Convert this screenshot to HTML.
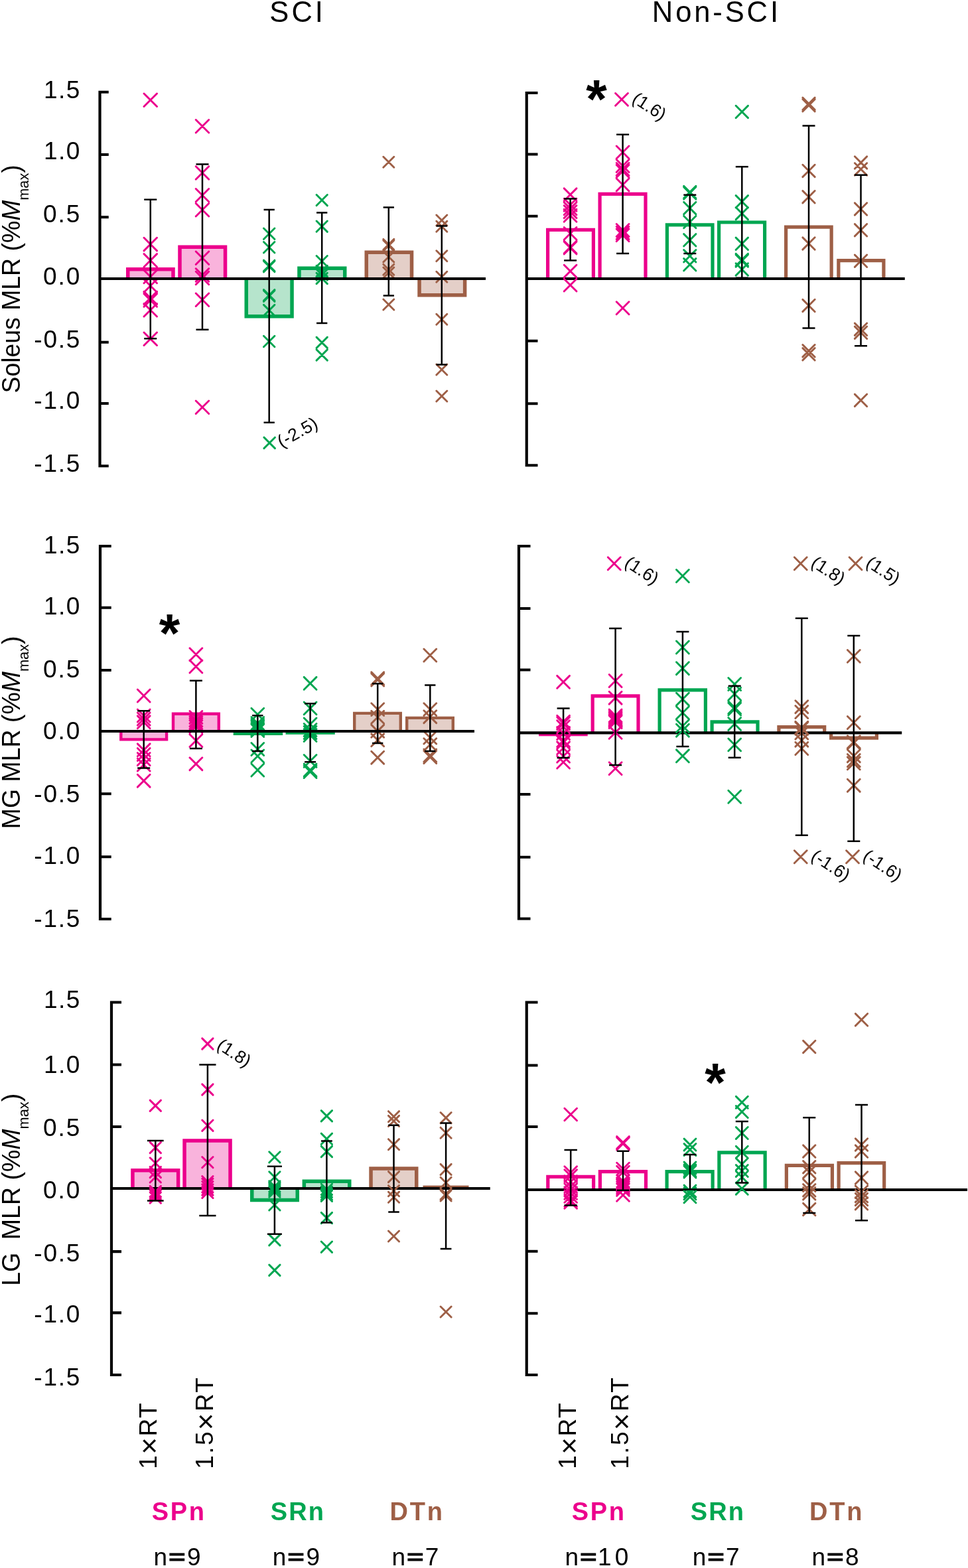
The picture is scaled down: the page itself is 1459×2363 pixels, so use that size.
<!DOCTYPE html>
<html lang="en">
<head>
<meta charset="utf-8">
<title>MLR amplitude in SCI and Non-SCI groups</title>
<style>
html,body{margin:0;padding:0;background:#fff}
body{width:1459px;height:2363px;overflow:hidden}
svg{display:block}
text{font-family:"Liberation Sans",Arial,Helvetica,sans-serif}
</style>
</head>
<body>
<svg width="1459" height="2363" viewBox="0 0 1459 2363">
<rect width="1459" height="2363" fill="#fff"/>
<g class="panel">
<path d="M192.75 420V405.75H261V420" fill="#f9b3dc" stroke="#ec008c" stroke-width="5.5"/>
<path d="M271 420V372.15H339.55V420" fill="#f9b3dc" stroke="#ec008c" stroke-width="5.5"/>
<path d="M371.25 420V476.75H440.05V420" fill="#b6e4cc" stroke="#00a651" stroke-width="5.5"/>
<path d="M450.95 420V404.15H519.75V420" fill="#b6e4cc" stroke="#00a651" stroke-width="5.5"/>
<path d="M552.25 420V380.15H620.55V420" fill="#e4cfc8" stroke="#9e5f46" stroke-width="5.5"/>
<path d="M632.05 420V444.65H700.65V420" fill="#e4cfc8" stroke="#9e5f46" stroke-width="5.5"/>
<path d="M216.99 140.99l19.52 19.52M216.99 160.51l19.52 -19.52M216.99 358.34l19.52 19.52M216.99 377.86l19.52 -19.52M216.99 382.64l19.52 19.52M216.99 402.16l19.52 -19.52M216.99 407.24l19.52 19.52M216.99 426.76l19.52 -19.52M216.99 420.94l19.52 19.52M216.99 440.46l19.52 -19.52M216.99 439.24l19.52 19.52M216.99 458.76l19.52 -19.52M216.99 442.74l19.52 19.52M216.99 462.26l19.52 -19.52M216.99 457.44l19.52 19.52M216.99 476.96l19.52 -19.52M216.99 501.04l19.52 19.52M216.99 520.56l19.52 -19.52" fill="none" stroke="#ec008c" stroke-width="2.9" stroke-linecap="round"/>
<path d="M295.24 180.49l19.52 19.52M295.24 200.01l19.52 -19.52M295.24 250.74l19.52 19.52M295.24 270.26l19.52 -19.52M295.24 284.49l19.52 19.52M295.24 304.01l19.52 -19.52M295.24 306.49l19.52 19.52M295.24 326.01l19.52 -19.52M295.24 378.94l19.52 19.52M295.24 398.46l19.52 -19.52M295.24 404.74l19.52 19.52M295.24 424.26l19.52 -19.52M295.24 409.24l19.52 19.52M295.24 428.76l19.52 -19.52M295.24 442.04l19.52 19.52M295.24 461.56l19.52 -19.52M295.24 603.99l19.52 19.52M295.24 623.51l19.52 -19.52" fill="none" stroke="#ec008c" stroke-width="2.9" stroke-linecap="round"/>
<path d="M397.45 344.05l16.49 16.49M397.45 360.55l16.49 -16.49M397.45 364.45l16.49 16.49M397.45 380.95l16.49 -16.49M397.45 392.15l16.49 16.49M397.45 408.65l16.49 -16.49M397.45 393.35l16.49 16.49M397.45 409.85l16.49 -16.49M397.45 436.55l16.49 16.49M397.45 453.05l16.49 -16.49M397.45 437.95l16.49 16.49M397.45 454.45l16.49 -16.49M397.45 459.35l16.49 16.49M397.45 475.85l16.49 -16.49M397.45 506.25l16.49 16.49M397.45 522.75l16.49 -16.49M397.95 659.15l16.49 16.49M397.95 675.65l16.49 -16.49" fill="none" stroke="#00a651" stroke-width="2.9" stroke-linecap="round"/>
<path d="M477.06 293.56l16.29 16.29M477.06 309.84l16.29 -16.29M477.06 333.06l16.29 16.29M477.06 349.34l16.29 -16.29M477.06 385.46l16.29 16.29M477.06 401.75l16.29 -16.29M477.06 400.25l16.29 16.29M477.06 416.54l16.29 -16.29M477.06 401.36l16.29 16.29M477.06 417.64l16.29 -16.29M477.06 405.86l16.29 16.29M477.06 422.14l16.29 -16.29M477.06 411.36l16.29 16.29M477.06 427.64l16.29 -16.29M477.06 508.11l16.29 16.29M477.06 524.39l16.29 -16.29M477.06 526.86l16.29 16.29M477.06 543.14l16.29 -16.29" fill="none" stroke="#00a651" stroke-width="2.9" stroke-linecap="round"/>
<path d="M577.81 236.26l15.99 15.99M577.81 252.24l15.99 -15.99M577.81 360.41l15.99 15.99M577.81 376.39l15.99 -15.99M577.81 362.21l15.99 15.99M577.81 378.19l15.99 -15.99M577.81 379.01l15.99 15.99M577.81 394.99l15.99 -15.99M577.81 398.21l15.99 15.99M577.81 414.19l15.99 -15.99M577.81 403.01l15.99 15.99M577.81 418.99l15.99 -15.99M577.81 451.01l15.99 15.99M577.81 466.99l15.99 -15.99" fill="none" stroke="#9e5f46" stroke-width="2.9" stroke-linecap="round"/>
<path d="M657.81 324.01l15.99 15.99M657.81 339.99l15.99 -15.99M657.81 333.31l15.99 15.99M657.81 349.29l15.99 -15.99M657.81 377.71l15.99 15.99M657.81 393.69l15.99 -15.99M657.81 409.21l15.99 15.99M657.81 425.19l15.99 -15.99M657.81 473.26l15.99 15.99M657.81 489.24l15.99 -15.99M657.81 549.01l15.99 15.99M657.81 564.99l15.99 -15.99M657.81 589.01l15.99 15.99M657.81 604.99l15.99 -15.99" fill="none" stroke="#9e5f46" stroke-width="2.9" stroke-linecap="round"/>
<path d="M150.5 136.65V704.35M150.5 138.75H163.75M150.5 233H163.75M150.5 327.25H163.75M150.5 515.75H163.75M150.5 608H163.75M150.5 702.25H163.75M148.4 420H732" fill="none" stroke="#000" stroke-width="4.2"/>
<path d="M226.75 300.75V510.2M217.25 300.75h19M217.25 510.2h19M305 247.5V496.75M295.5 247.5h19M295.5 496.75h19M405.7 316V636.75M397.55 316h16.3M397.55 636.75h16.3M485.2 320.5V487M477.05 320.5h16.3M477.05 487h16.3M585.8 312.6V445.5M577.65 312.6h16.3M577.65 445.5h16.3M665.8 340.5V549.5M657.65 340.5h16.3M657.65 549.5h16.3" fill="none" stroke="#000" stroke-width="2.5"/>
</g>
<g class="panel">
<path d="M825.6 420V346.4H894.4V420" fill="none" stroke="#ec008c" stroke-width="5.2"/>
<path d="M904.1 420V292.4H973V420" fill="none" stroke="#ec008c" stroke-width="5.2"/>
<path d="M1005.4 420V338.8H1074V420" fill="none" stroke="#00a651" stroke-width="5.2"/>
<path d="M1083.6 420V335H1152.6V420" fill="none" stroke="#00a651" stroke-width="5.2"/>
<path d="M1184.6 420V342.1H1253.15V420" fill="none" stroke="#9e5f46" stroke-width="5.2"/>
<path d="M1263.85 420V392.6H1331.9V420" fill="none" stroke="#9e5f46" stroke-width="5.2"/>
<path d="M793.75 137.9V703.35M793.75 140H810.5M793.75 232.5H810.5M793.75 325.75H810.5M793.75 513.75H810.5M793.75 608.25H810.5M793.75 701.25H810.5M791.65 420H1363.75" fill="none" stroke="#000" stroke-width="4.2"/>
<path d="M850.19 283.89l18.82 18.82M850.19 302.71l18.82 -18.82M850.19 299.29l18.82 18.82M850.19 318.11l18.82 -18.82M850.19 304.89l18.82 18.82M850.19 323.71l18.82 -18.82M850.19 309.79l18.82 18.82M850.19 328.61l18.82 -18.82M850.19 315.39l18.82 18.82M850.19 334.21l18.82 -18.82M850.19 342.49l18.82 18.82M850.19 361.31l18.82 -18.82M850.19 362.99l18.82 18.82M850.19 381.81l18.82 -18.82M850.19 364.19l18.82 18.82M850.19 383.01l18.82 -18.82M850.19 399.29l18.82 18.82M850.19 418.11l18.82 -18.82M850.19 420.19l18.82 18.82M850.19 439.01l18.82 -18.82" fill="none" stroke="#ec008c" stroke-width="2.9" stroke-linecap="round"/>
<path d="M927.59 140.49l18.82 18.82M927.59 159.31l18.82 -18.82M929.19 220.09l18.82 18.82M929.19 238.91l18.82 -18.82M929.19 240.59l18.82 18.82M929.19 259.41l18.82 -18.82M929.19 245.59l18.82 18.82M929.19 264.41l18.82 -18.82M929.19 248.59l18.82 18.82M929.19 267.41l18.82 -18.82M929.19 269.09l18.82 18.82M929.19 287.91l18.82 -18.82M929.19 337.59l18.82 18.82M929.19 356.41l18.82 -18.82M929.19 344.99l18.82 18.82M929.19 363.81l18.82 -18.82M929.19 341.59l18.82 18.82M929.19 360.41l18.82 -18.82M929.19 454.84l18.82 18.82M929.19 473.66l18.82 -18.82" fill="none" stroke="#ec008c" stroke-width="2.9" stroke-linecap="round"/>
<path d="M1030.64 280.35l18.31 18.31M1030.64 298.65l18.31 -18.31M1030.64 281.85l18.31 18.31M1030.64 300.15l18.31 -18.31M1030.64 304.54l18.31 18.31M1030.64 322.86l18.31 -18.31M1030.64 325.45l18.31 18.31M1030.64 343.75l18.31 -18.31M1030.64 352.64l18.31 18.31M1030.64 370.96l18.31 -18.31M1030.64 376.64l18.31 18.31M1030.64 394.96l18.31 -18.31M1030.64 389.64l18.31 18.31M1030.64 407.96l18.31 -18.31" fill="none" stroke="#00a651" stroke-width="2.9" stroke-linecap="round"/>
<path d="M1109.14 159.34l18.31 18.31M1109.14 177.66l18.31 -18.31M1109.14 294.64l18.31 18.31M1109.14 312.96l18.31 -18.31M1109.14 312.54l18.31 18.31M1109.14 330.86l18.31 -18.31M1109.14 358.14l18.31 18.31M1109.14 376.46l18.31 -18.31M1109.14 382.25l18.31 18.31M1109.14 400.55l18.31 -18.31M1109.14 383.85l18.31 18.31M1109.14 402.15l18.31 -18.31M1109.14 396.85l18.31 18.31M1109.14 415.15l18.31 -18.31" fill="none" stroke="#00a651" stroke-width="2.9" stroke-linecap="round"/>
<path d="M1209.85 147.09l18.31 18.31M1209.85 165.41l18.31 -18.31M1209.85 149.59l18.31 18.31M1209.85 167.91l18.31 -18.31M1209.85 248.34l18.31 18.31M1209.85 266.65l18.31 -18.31M1209.85 287.6l18.31 18.31M1209.85 305.9l18.31 -18.31M1209.85 357.85l18.31 18.31M1209.85 376.15l18.31 -18.31M1209.85 451.35l18.31 18.31M1209.85 469.65l18.31 -18.31M1209.85 519.6l18.31 18.31M1209.85 537.9l18.31 -18.31M1209.85 524.6l18.31 18.31M1209.85 542.9l18.31 -18.31" fill="none" stroke="#9e5f46" stroke-width="2.9" stroke-linecap="round"/>
<path d="M1288.35 235.84l18.31 18.31M1288.35 254.16l18.31 -18.31M1288.35 245.84l18.31 18.31M1288.35 264.15l18.31 -18.31M1288.35 305.85l18.31 18.31M1288.35 324.15l18.31 -18.31M1288.35 337.6l18.31 18.31M1288.35 355.9l18.31 -18.31M1288.35 384.1l18.31 18.31M1288.35 402.4l18.31 -18.31M1288.35 487.1l18.31 18.31M1288.35 505.4l18.31 -18.31M1288.35 492.1l18.31 18.31M1288.35 510.4l18.31 -18.31M1288.35 594.1l18.31 18.31M1288.35 612.4l18.31 -18.31" fill="none" stroke="#9e5f46" stroke-width="2.9" stroke-linecap="round"/>
<path d="M859.6 299.4V392.4M850.1 299.4h19M850.1 392.4h19M938.6 202.75V381.9M929.1 202.75h19M929.1 381.9h19M1039.8 293.7V381.9M1030.3 293.7h19M1030.3 381.9h19M1118.3 251.25V418.75M1108.8 251.25h19M1108.8 418.75h19M1219 189.5V494.5M1209.5 189.5h19M1209.5 494.5h19M1297.5 263.75V521.25M1288 263.75h19M1288 521.25h19" fill="none" stroke="#000" stroke-width="2.5"/>
</g>
<g class="panel">
<path d="M182.3 1102V1114.4H251.1V1102" fill="#f9b3dc" stroke="#ec008c" stroke-width="4.4"/>
<path d="M261 1102V1075.7H329.8V1102" fill="#f9b3dc" stroke="#ec008c" stroke-width="4.4"/>
<rect x="351.7" y="1102" width="74.5" height="6" fill="#00a651"/>
<rect x="430.5" y="1102" width="74.3" height="4.8" fill="#00a651"/>
<path d="M534.2 1102V1074.9H603.8V1102" fill="#e4cfc8" stroke="#9e5f46" stroke-width="4.4"/>
<path d="M613.2 1102V1081.9H682.8V1102" fill="#e4cfc8" stroke="#9e5f46" stroke-width="4.4"/>
<path d="M207.29 1039.09l18.82 18.82M207.29 1057.91l18.82 -18.82M207.29 1069.09l18.82 18.82M207.29 1087.91l18.82 -18.82M207.29 1074.09l18.82 18.82M207.29 1092.91l18.82 -18.82M207.29 1078.89l18.82 18.82M207.29 1097.71l18.82 -18.82M207.29 1120.89l18.82 18.82M207.29 1139.71l18.82 -18.82M207.29 1127.59l18.82 18.82M207.29 1146.41l18.82 -18.82M207.29 1134.59l18.82 18.82M207.29 1153.41l18.82 -18.82M207.29 1143.09l18.82 18.82M207.29 1161.91l18.82 -18.82M207.29 1167.29l18.82 18.82M207.29 1186.11l18.82 -18.82" fill="none" stroke="#ec008c" stroke-width="2.9" stroke-linecap="round"/>
<path d="M285.99 976.84l18.82 18.82M285.99 995.66l18.82 -18.82M285.99 995.09l18.82 18.82M285.99 1013.91l18.82 -18.82M285.99 1071.49l18.82 18.82M285.99 1090.31l18.82 -18.82M285.99 1075.89l18.82 18.82M285.99 1094.71l18.82 -18.82M285.99 1079.59l18.82 18.82M285.99 1098.41l18.82 -18.82M285.99 1082.59l18.82 18.82M285.99 1101.41l18.82 -18.82M285.99 1085.59l18.82 18.82M285.99 1104.41l18.82 -18.82M285.99 1106.69l18.82 18.82M285.99 1125.51l18.82 -18.82M285.99 1141.79l18.82 18.82M285.99 1160.61l18.82 -18.82" fill="none" stroke="#ec008c" stroke-width="2.9" stroke-linecap="round"/>
<path d="M378.89 1067.19l18.82 18.82M378.89 1086.01l18.82 -18.82M378.89 1080.59l18.82 18.82M378.89 1099.41l18.82 -18.82M378.89 1083.59l18.82 18.82M378.89 1102.41l18.82 -18.82M378.89 1086.59l18.82 18.82M378.89 1105.41l18.82 -18.82M378.89 1089.59l18.82 18.82M378.89 1108.41l18.82 -18.82M378.89 1091.59l18.82 18.82M378.89 1110.41l18.82 -18.82M378.89 1119.59l18.82 18.82M378.89 1138.41l18.82 -18.82M378.89 1130.09l18.82 18.82M378.89 1148.91l18.82 -18.82M378.89 1151.09l18.82 18.82M378.89 1169.91l18.82 -18.82" fill="none" stroke="#00a651" stroke-width="2.9" stroke-linecap="round"/>
<path d="M458.19 1020.39l18.82 18.82M458.19 1039.21l18.82 -18.82M458.19 1057.99l18.82 18.82M458.19 1076.81l18.82 -18.82M458.19 1081.99l18.82 18.82M458.19 1100.81l18.82 -18.82M458.19 1090.59l18.82 18.82M458.19 1109.41l18.82 -18.82M458.19 1094.59l18.82 18.82M458.19 1113.41l18.82 -18.82M458.19 1098.59l18.82 18.82M458.19 1117.41l18.82 -18.82M458.19 1137.49l18.82 18.82M458.19 1156.31l18.82 -18.82M458.19 1151.09l18.82 18.82M458.19 1169.91l18.82 -18.82M458.19 1153.59l18.82 18.82M458.19 1172.41l18.82 -18.82" fill="none" stroke="#00a651" stroke-width="2.9" stroke-linecap="round"/>
<path d="M559.79 1012.89l18.82 18.82M559.79 1031.71l18.82 -18.82M559.79 1015.09l18.82 18.82M559.79 1033.91l18.82 -18.82M559.79 1059.69l18.82 18.82M559.79 1078.51l18.82 -18.82M559.79 1071.39l18.82 18.82M559.79 1090.21l18.82 -18.82M559.79 1092.39l18.82 18.82M559.79 1111.21l18.82 -18.82M559.79 1105.89l18.82 18.82M559.79 1124.71l18.82 -18.82M559.79 1132.29l18.82 18.82M559.79 1151.11l18.82 -18.82" fill="none" stroke="#9e5f46" stroke-width="2.9" stroke-linecap="round"/>
<path d="M638.89 978.09l18.82 18.82M638.89 996.91l18.82 -18.82M638.89 1059.69l18.82 18.82M638.89 1078.51l18.82 -18.82M638.89 1070.79l18.82 18.82M638.89 1089.61l18.82 -18.82M638.89 1102.19l18.82 18.82M638.89 1121.01l18.82 -18.82M638.89 1112.69l18.82 18.82M638.89 1131.51l18.82 -18.82M638.89 1129.09l18.82 18.82M638.89 1147.91l18.82 -18.82M638.89 1131.59l18.82 18.82M638.89 1150.41l18.82 -18.82" fill="none" stroke="#9e5f46" stroke-width="2.9" stroke-linecap="round"/>
<path d="M151 820.9V1387.1M151 823H167.7M151 915.75H167.7M151 1010H167.7M151 1196.25H167.7M151 1291.25H167.7M151 1385H167.7M148.9 1102H715" fill="none" stroke="#000" stroke-width="4.2"/>
<path d="M216.7 1071.2V1157.4M207.2 1071.2h19M207.2 1157.4h19M295.4 1025.7V1128M285.9 1025.7h19M285.9 1128h19M388.3 1078.3V1131.9M380.15 1078.3h16.3M380.15 1131.9h16.3M467.6 1060.2V1148.3M459.1 1060.2h17M459.1 1148.3h17M569.2 1030.3V1120M561.05 1030.3h16.3M561.05 1120h16.3M648.3 1032.4V1131.9M640.15 1032.4h16.3M640.15 1131.9h16.3" fill="none" stroke="#000" stroke-width="2.5"/>
</g>
<g class="panel">
<rect x="812" y="1104.4" width="73.75" height="4.9" fill="#ec008c"/>
<path d="M893.2 1104.4V1048.9H962V1104.4" fill="none" stroke="#ec008c" stroke-width="5.2"/>
<path d="M994.1 1104.4V1039.8H1063.4V1104.4" fill="none" stroke="#00a651" stroke-width="5.2"/>
<path d="M1073.1 1104.4V1087.8H1142V1104.4" fill="none" stroke="#00a651" stroke-width="5.2"/>
<path d="M1173.9 1104.4V1095.6H1242.7V1104.4" fill="none" stroke="#9e5f46" stroke-width="5.2"/>
<path d="M1252.6 1104.4V1112.1H1321.4V1104.4" fill="none" stroke="#9e5f46" stroke-width="5.2"/>
<path d="M782 820.9V1386.6M782 823H799.5M782 917H799.5M782 1009.5H799.5M782 1197H799.5M782 1291.75H799.5M782 1384.5H799.5M779.9 1104.4H1359.25" fill="none" stroke="#000" stroke-width="4.2"/>
<path d="M839.69 1018.39l18.82 18.82M839.69 1037.21l18.82 -18.82M839.69 1078.29l18.82 18.82M839.69 1097.11l18.82 -18.82M839.69 1080.79l18.82 18.82M839.69 1099.61l18.82 -18.82M839.69 1085.69l18.82 18.82M839.69 1104.51l18.82 -18.82M839.69 1095.59l18.82 18.82M839.69 1114.41l18.82 -18.82M839.69 1106.59l18.82 18.82M839.69 1125.41l18.82 -18.82M839.69 1109.59l18.82 18.82M839.69 1128.41l18.82 -18.82M839.69 1117.89l18.82 18.82M839.69 1136.71l18.82 -18.82M839.69 1130.19l18.82 18.82M839.69 1149.01l18.82 -18.82M839.69 1139.19l18.82 18.82M839.69 1158.01l18.82 -18.82" fill="none" stroke="#ec008c" stroke-width="2.9" stroke-linecap="round"/>
<path d="M916.34 839.84l18.82 18.82M916.34 858.66l18.82 -18.82M918.19 1016.59l18.82 18.82M918.19 1035.41l18.82 -18.82M918.19 1042.29l18.82 18.82M918.19 1061.11l18.82 -18.82M918.19 1069.09l18.82 18.82M918.19 1087.91l18.82 -18.82M918.19 1071.59l18.82 18.82M918.19 1090.41l18.82 -18.82M918.19 1074.09l18.82 18.82M918.19 1092.91l18.82 -18.82M918.19 1076.59l18.82 18.82M918.19 1095.41l18.82 -18.82M918.19 1078.59l18.82 18.82M918.19 1097.41l18.82 -18.82M918.19 1094.39l18.82 18.82M918.19 1113.21l18.82 -18.82M918.19 1148.69l18.82 18.82M918.19 1167.51l18.82 -18.82" fill="none" stroke="#ec008c" stroke-width="2.9" stroke-linecap="round"/>
<path d="M1019.49 858.59l18.82 18.82M1019.49 877.41l18.82 -18.82M1019.49 966.09l18.82 18.82M1019.49 984.91l18.82 -18.82M1019.49 997.79l18.82 18.82M1019.49 1016.61l18.82 -18.82M1019.49 1044.29l18.82 18.82M1019.49 1063.11l18.82 -18.82M1019.49 1064.69l18.82 18.82M1019.49 1083.51l18.82 -18.82M1019.49 1084.69l18.82 18.82M1019.49 1103.51l18.82 -18.82M1019.49 1091.29l18.82 18.82M1019.49 1110.11l18.82 -18.82M1019.49 1129.89l18.82 18.82M1019.49 1148.71l18.82 -18.82" fill="none" stroke="#00a651" stroke-width="2.9" stroke-linecap="round"/>
<path d="M1097.79 1021.59l18.82 18.82M1097.79 1040.41l18.82 -18.82M1097.79 1036.39l18.82 18.82M1097.79 1055.21l18.82 -18.82M1097.79 1056.69l18.82 18.82M1097.79 1075.51l18.82 -18.82M1097.79 1059.19l18.82 18.82M1097.79 1078.01l18.82 -18.82M1097.79 1081.59l18.82 18.82M1097.79 1100.41l18.82 -18.82M1097.79 1112.99l18.82 18.82M1097.79 1131.81l18.82 -18.82M1097.79 1191.34l18.82 18.82M1097.79 1210.16l18.82 -18.82" fill="none" stroke="#00a651" stroke-width="2.9" stroke-linecap="round"/>
<path d="M1197.34 839.84l18.82 18.82M1197.34 858.66l18.82 -18.82M1198.89 1055.79l18.82 18.82M1198.89 1074.61l18.82 -18.82M1198.89 1063.59l18.82 18.82M1198.89 1082.41l18.82 -18.82M1198.89 1087.19l18.82 18.82M1198.89 1106.01l18.82 -18.82M1198.89 1088.39l18.82 18.82M1198.89 1107.21l18.82 -18.82M1198.89 1095.19l18.82 18.82M1198.89 1114.01l18.82 -18.82M1198.89 1106.29l18.82 18.82M1198.89 1125.11l18.82 -18.82M1198.89 1118.59l18.82 18.82M1198.89 1137.41l18.82 -18.82M1197.34 1281.84l18.82 18.82M1197.34 1300.66l18.82 -18.82" fill="none" stroke="#9e5f46" stroke-width="2.9" stroke-linecap="round"/>
<path d="M1280.09 839.84l18.82 18.82M1280.09 858.66l18.82 -18.82M1277.39 979.49l18.82 18.82M1277.39 998.31l18.82 -18.82M1277.39 1079.59l18.82 18.82M1277.39 1098.41l18.82 -18.82M1277.39 1108.79l18.82 18.82M1277.39 1127.61l18.82 -18.82M1277.39 1110.19l18.82 18.82M1277.39 1129.01l18.82 -18.82M1277.39 1129.79l18.82 18.82M1277.39 1148.61l18.82 -18.82M1277.39 1136.59l18.82 18.82M1277.39 1155.41l18.82 -18.82M1277.39 1140.89l18.82 18.82M1277.39 1159.71l18.82 -18.82M1277.39 1174.29l18.82 18.82M1277.39 1193.11l18.82 -18.82M1275.59 1281.84l18.82 18.82M1275.59 1300.66l18.82 -18.82" fill="none" stroke="#9e5f46" stroke-width="2.9" stroke-linecap="round"/>
<path d="M849.1 1067.6V1141.9M839.6 1067.6h19M839.6 1141.9h19M927.6 947V1153M918.1 947h19M918.1 1153h19M1028.9 952V1125M1019.4 952h19M1019.4 1125h19M1107.2 1033.7V1141.8M1097.7 1033.7h19M1097.7 1141.8h19M1208.3 931.75V1258.75M1198.8 931.75h19M1198.8 1258.75h19M1286.8 958V1267.75M1277.3 958h19M1277.3 1267.75h19" fill="none" stroke="#000" stroke-width="2.5"/>
</g>
<g class="panel">
<path d="M199.95 1791V1763.65H268.65V1791" fill="#f9b3dc" stroke="#ec008c" stroke-width="5.5"/>
<path d="M278.05 1791V1719.05H347.05V1791" fill="#f9b3dc" stroke="#ec008c" stroke-width="5.5"/>
<path d="M379.75 1791V1808.55H448.25V1791" fill="#b6e4cc" stroke="#00a651" stroke-width="5.5"/>
<path d="M458.35 1791V1780.15H526.75V1791" fill="#b6e4cc" stroke="#00a651" stroke-width="5.5"/>
<path d="M559.05 1791V1761.05H627.75V1791" fill="#e4cfc8" stroke="#9e5f46" stroke-width="5.5"/>
<rect x="637.5" y="1786.6" width="69" height="4.4" fill="#9e5f46"/>
<path d="M168 1508.4V2074.1M168 1510.5H183M168 1604.5H183M168 1698H183M168 1886.1H183M168 1978.3H183M168 2072H183M165.9 1791H738.75" fill="none" stroke="#000" stroke-width="4.2"/>
<path d="M226.16 1658.11l16.29 16.29M226.16 1674.39l16.29 -16.29M226.16 1721.36l16.29 16.29M226.16 1737.64l16.29 -16.29M226.16 1744.76l16.29 16.29M226.16 1761.05l16.29 -16.29M226.16 1758.36l16.29 16.29M226.16 1774.64l16.29 -16.29M226.16 1765.76l16.29 16.29M226.16 1782.05l16.29 -16.29M226.16 1787.36l16.29 16.29M226.16 1803.64l16.29 -16.29M226.16 1790.45l16.29 16.29M226.16 1806.74l16.29 -16.29M226.16 1793.45l16.29 16.29M226.16 1809.74l16.29 -16.29M226.16 1796.86l16.29 16.29M226.16 1813.14l16.29 -16.29" fill="none" stroke="#ec008c" stroke-width="2.9" stroke-linecap="round"/>
<path d="M304.75 1564.86l16.29 16.29M304.75 1581.14l16.29 -16.29M304.75 1633.86l16.29 16.29M304.75 1650.14l16.29 -16.29M304.75 1688.06l16.29 16.29M304.75 1704.35l16.29 -16.29M304.75 1743.45l16.29 16.29M304.75 1759.74l16.29 -16.29M304.75 1772.56l16.29 16.29M304.75 1788.85l16.29 -16.29M304.75 1776.26l16.29 16.29M304.75 1792.55l16.29 -16.29M304.75 1780.56l16.29 16.29M304.75 1796.85l16.29 -16.29M304.75 1784.86l16.29 16.29M304.75 1801.14l16.29 -16.29M304.75 1789.15l16.29 16.29M304.75 1805.44l16.29 -16.29" fill="none" stroke="#ec008c" stroke-width="2.9" stroke-linecap="round"/>
<path d="M405.75 1735.76l16.29 16.29M405.75 1752.05l16.29 -16.29M405.75 1765.76l16.29 16.29M405.75 1782.05l16.29 -16.29M405.75 1779.86l16.29 16.29M405.75 1796.14l16.29 -16.29M405.75 1783.06l16.29 16.29M405.75 1799.35l16.29 -16.29M405.75 1785.45l16.29 16.29M405.75 1801.74l16.29 -16.29M405.75 1787.95l16.29 16.29M405.75 1804.24l16.29 -16.29M405.75 1807.76l16.29 16.29M405.75 1824.05l16.29 -16.29M405.75 1860.61l16.29 16.29M405.75 1876.89l16.29 -16.29M405.75 1906.11l16.29 16.29M405.75 1922.39l16.29 -16.29" fill="none" stroke="#00a651" stroke-width="2.9" stroke-linecap="round"/>
<path d="M484.25 1673.61l16.29 16.29M484.25 1689.89l16.29 -16.29M484.25 1708.15l16.29 16.29M484.25 1724.44l16.29 -16.29M484.25 1727.36l16.29 16.29M484.25 1743.64l16.29 -16.29M484.25 1784.26l16.29 16.29M484.25 1800.55l16.29 -16.29M484.25 1787.95l16.29 16.29M484.25 1804.24l16.29 -16.29M484.25 1791.65l16.29 16.29M484.25 1807.94l16.29 -16.29M484.25 1794.15l16.29 16.29M484.25 1810.44l16.29 -16.29M484.25 1827.36l16.29 16.29M484.25 1843.64l16.29 -16.29M484.25 1871.06l16.29 16.29M484.25 1887.35l16.29 -16.29" fill="none" stroke="#00a651" stroke-width="2.9" stroke-linecap="round"/>
<path d="M585.46 1674.66l16.09 16.09M585.46 1690.74l16.09 -16.09M585.46 1681.36l16.09 16.09M585.46 1697.44l16.09 -16.09M585.46 1716.66l16.09 16.09M585.46 1732.74l16.09 -16.09M585.46 1765.56l16.09 16.09M585.46 1781.64l16.09 -16.09M585.46 1786.66l16.09 16.09M585.46 1802.74l16.09 -16.09M585.46 1796.16l16.09 16.09M585.46 1812.24l16.09 -16.09M585.46 1854.96l16.09 16.09M585.46 1871.04l16.09 -16.09" fill="none" stroke="#9e5f46" stroke-width="2.9" stroke-linecap="round"/>
<path d="M664.06 1676.56l16.09 16.09M664.06 1692.64l16.09 -16.09M664.06 1699.16l16.09 16.09M664.06 1715.24l16.09 -16.09M664.06 1754.36l16.09 16.09M664.06 1770.44l16.09 -16.09M664.06 1774.26l16.09 16.09M664.06 1790.34l16.09 -16.09M664.06 1791.36l16.09 16.09M664.06 1807.44l16.09 -16.09M664.06 1793.86l16.09 16.09M664.06 1809.94l16.09 -16.09M664.06 1968.96l16.09 16.09M664.06 1985.04l16.09 -16.09" fill="none" stroke="#9e5f46" stroke-width="2.9" stroke-linecap="round"/>
<path d="M234.3 1719V1809.4M221.95 1719h24.7M221.95 1809.4h24.7M312.9 1604.5V1832M300.3 1604.5h25.2M300.3 1832h25.2M413.9 1757.8V1859.8M402.9 1757.8h22M402.9 1859.8h22M492.4 1719.4V1842.6M484 1719.4h16.8M484 1842.6h16.8M593.5 1695.8V1826.4M585.25 1695.8h16.5M585.25 1826.4h16.5M672.1 1692.6V1882M663.75 1692.6h16.7M663.75 1882h16.7" fill="none" stroke="#000" stroke-width="2.5"/>
</g>
<g class="panel">
<path d="M825.8 1793V1773.4H894.6V1793" fill="none" stroke="#ec008c" stroke-width="5.2"/>
<path d="M904.4 1793V1765.6H973.5V1793" fill="none" stroke="#ec008c" stroke-width="5.2"/>
<path d="M1005.1 1793V1765.6H1074.15V1793" fill="none" stroke="#00a651" stroke-width="5.2"/>
<path d="M1083.85 1793V1736.85H1153.15V1793" fill="none" stroke="#00a651" stroke-width="5.2"/>
<path d="M1185.35 1793V1756.35H1254.4V1793" fill="none" stroke="#9e5f46" stroke-width="5.2"/>
<path d="M1264.1 1793V1752.6H1332.65V1793" fill="none" stroke="#9e5f46" stroke-width="5.2"/>
<path d="M793.75 1508.4V2074.1M793.75 1510.5H810.5M793.75 1605.5H810.5M793.75 1698H810.5M793.75 1885.75H810.5M793.75 1979.25H810.5M793.75 2072H810.5M791.65 1793H1458" fill="none" stroke="#000" stroke-width="4.2"/>
<path d="M850.89 1670.19l18.61 18.61M850.89 1688.81l18.61 -18.61M850.89 1757.79l18.61 18.61M850.89 1776.41l18.61 -18.61M850.89 1762.69l18.61 18.61M850.89 1781.31l18.61 -18.61M850.89 1771.69l18.61 18.61M850.89 1790.31l18.61 -18.61M850.89 1778.69l18.61 18.61M850.89 1797.31l18.61 -18.61M850.89 1783.69l18.61 18.61M850.89 1802.31l18.61 -18.61M850.89 1788.69l18.61 18.61M850.89 1807.31l18.61 -18.61M850.89 1793.69l18.61 18.61M850.89 1812.31l18.61 -18.61M850.89 1799.69l18.61 18.61M850.89 1818.31l18.61 -18.61M850.89 1802.69l18.61 18.61M850.89 1821.31l18.61 -18.61" fill="none" stroke="#ec008c" stroke-width="2.9" stroke-linecap="round"/>
<path d="M929.69 1712.49l18.61 18.61M929.69 1731.11l18.61 -18.61M929.69 1714.29l18.61 18.61M929.69 1732.91l18.61 -18.61M929.69 1752.29l18.61 18.61M929.69 1770.91l18.61 -18.61M929.69 1757.19l18.61 18.61M929.69 1775.81l18.61 -18.61M929.69 1770.69l18.61 18.61M929.69 1789.31l18.61 -18.61M929.69 1774.69l18.61 18.61M929.69 1793.31l18.61 -18.61M929.69 1777.69l18.61 18.61M929.69 1796.31l18.61 -18.61M929.69 1780.69l18.61 18.61M929.69 1799.31l18.61 -18.61M929.69 1783.69l18.61 18.61M929.69 1802.31l18.61 -18.61M929.69 1791.69l18.61 18.61M929.69 1810.31l18.61 -18.61" fill="none" stroke="#ec008c" stroke-width="2.9" stroke-linecap="round"/>
<path d="M1031.1 1716.1l17.81 17.81M1031.1 1733.9l17.81 -17.81M1031.1 1723.6l17.81 17.81M1031.1 1741.4l17.81 -17.81M1031.1 1751.1l17.81 17.81M1031.1 1768.9l17.81 -17.81M1031.1 1755.1l17.81 17.81M1031.1 1772.9l17.81 -17.81M1031.1 1757.1l17.81 17.81M1031.1 1774.9l17.81 -17.81M1031.1 1786.1l17.81 17.81M1031.1 1803.9l17.81 -17.81M1031.1 1789.85l17.81 17.81M1031.1 1807.65l17.81 -17.81M1031.1 1794.85l17.81 17.81M1031.1 1812.65l17.81 -17.81" fill="none" stroke="#00a651" stroke-width="2.9" stroke-linecap="round"/>
<path d="M1109.4 1652.35l17.81 17.81M1109.4 1670.15l17.81 -17.81M1109.4 1666.6l17.81 17.81M1109.4 1684.4l17.81 -17.81M1109.4 1698.6l17.81 17.81M1109.4 1716.4l17.81 -17.81M1109.4 1727.35l17.81 17.81M1109.4 1745.15l17.81 -17.81M1109.4 1745.6l17.81 17.81M1109.4 1763.4l17.81 -17.81M1109.4 1755.6l17.81 17.81M1109.4 1773.4l17.81 -17.81M1109.4 1765.1l17.81 17.81M1109.4 1782.9l17.81 -17.81M1109.4 1782.35l17.81 17.81M1109.4 1800.15l17.81 -17.81" fill="none" stroke="#00a651" stroke-width="2.9" stroke-linecap="round"/>
<path d="M1210.6 1568.35l18.31 18.31M1210.6 1586.65l18.31 -18.31M1210.6 1725.85l18.31 18.31M1210.6 1744.15l18.31 -18.31M1210.6 1749.6l18.31 18.31M1210.6 1767.9l18.31 -18.31M1210.6 1757.1l18.31 18.31M1210.6 1775.4l18.31 -18.31M1210.6 1777.1l18.31 18.31M1210.6 1795.4l18.31 -18.31M1210.6 1784.6l18.31 18.31M1210.6 1802.9l18.31 -18.31M1210.6 1789.6l18.31 18.31M1210.6 1807.9l18.31 -18.31M1210.6 1813.35l18.31 18.31M1210.6 1831.65l18.31 -18.31" fill="none" stroke="#9e5f46" stroke-width="2.9" stroke-linecap="round"/>
<path d="M1289.35 1527.6l18.31 18.31M1289.35 1545.9l18.31 -18.31M1289.35 1715.85l18.31 18.31M1289.35 1734.15l18.31 -18.31M1289.35 1725.85l18.31 18.31M1289.35 1744.15l18.31 -18.31M1289.35 1765.85l18.31 18.31M1289.35 1784.15l18.31 -18.31M1289.35 1787.1l18.31 18.31M1289.35 1805.4l18.31 -18.31M1289.35 1793.35l18.31 18.31M1289.35 1811.65l18.31 -18.31M1289.35 1798.35l18.31 18.31M1289.35 1816.65l18.31 -18.31M1289.35 1804.6l18.31 18.31M1289.35 1822.9l18.31 -18.31" fill="none" stroke="#9e5f46" stroke-width="2.9" stroke-linecap="round"/>
<path d="M860.2 1733V1816.4M850.5 1733h19.4M850.5 1816.4h19.4M939 1734.8V1793.75M929.75 1734.8h18.5M929.75 1793.75h18.5M1040 1740V1792.5M1030.5 1740h19M1030.5 1792.5h19M1118.3 1690V1782.5M1108.8 1690h19M1108.8 1782.5h19M1219.75 1684.25V1828M1210.25 1684.25h19M1210.25 1828h19M1298.5 1665V1839.25M1289 1665h19M1289 1839.25h19" fill="none" stroke="#000" stroke-width="2.5"/>
</g>
<text x="406.36" y="33" font-size="43.5" letter-spacing="4.02">SCI</text>
<text x="982.82" y="33" font-size="43.5" letter-spacing="3.9">Non-SCI</text>
<text x="65.91" y="147.6" font-size="37" letter-spacing="1.5">1.5</text>
<text x="65.91" y="240.1" font-size="37" letter-spacing="1.5">1.0</text>
<text x="65.09" y="335.3" font-size="37" letter-spacing="1.91">0.5</text>
<text x="65.09" y="428.5" font-size="37" letter-spacing="1.91">0.0</text>
<text x="51.32" y="523.6" font-size="37" letter-spacing="1.75">-0.5</text>
<text x="51.32" y="615.9" font-size="37" letter-spacing="1.75">-1.0</text>
<text x="51.32" y="710.9" font-size="37" letter-spacing="1.75">-1.5</text>
<text x="65.91" y="833.8" font-size="37" letter-spacing="1.5">1.5</text>
<text x="65.91" y="926" font-size="37" letter-spacing="1.5">1.0</text>
<text x="65.09" y="1021.4" font-size="37" letter-spacing="1.91">0.5</text>
<text x="65.09" y="1113.9" font-size="37" letter-spacing="1.91">0.0</text>
<text x="51.32" y="1208.9" font-size="37" letter-spacing="1.75">-0.5</text>
<text x="51.32" y="1301.7" font-size="37" letter-spacing="1.75">-1.0</text>
<text x="51.32" y="1396.7" font-size="37" letter-spacing="1.75">-1.5</text>
<text x="65.91" y="1518.7" font-size="37" letter-spacing="1.5">1.5</text>
<text x="65.91" y="1616.7" font-size="37" letter-spacing="1.5">1.0</text>
<text x="65.09" y="1712" font-size="37" letter-spacing="1.91">0.5</text>
<text x="65.09" y="1805.6" font-size="37" letter-spacing="1.91">0.0</text>
<text x="51.32" y="1900.9" font-size="37" letter-spacing="1.75">-0.5</text>
<text x="51.32" y="1993.1" font-size="37" letter-spacing="1.75">-1.0</text>
<text x="51.32" y="2088.3" font-size="37" letter-spacing="1.75">-1.5</text>
<text x="228.74" y="2291" font-size="38" letter-spacing="2.63" font-weight="bold" fill="#ec008c">SPn</text>
<text x="407.64" y="2291" font-size="38" letter-spacing="2.19" font-weight="bold" fill="#00a651">SRn</text>
<text x="587.52" y="2291" font-size="38" letter-spacing="2.76" font-weight="bold" fill="#9e5f46">DTn</text>
<text x="861.74" y="2291" font-size="38" letter-spacing="2.63" font-weight="bold" fill="#ec008c">SPn</text>
<text x="1040.64" y="2291" font-size="38" letter-spacing="2.19" font-weight="bold" fill="#00a651">SRn</text>
<text x="1220.12" y="2291" font-size="38" letter-spacing="2.76" font-weight="bold" fill="#9e5f46">DTn</text>
<text x="231.38" y="2359.3" font-size="37">n</text>
<text transform="translate(254.41 2356) scale(1.56 1)" font-size="27" font-weight="bold" stroke="#000" stroke-width="1.1">=</text>
<text x="282.12" y="2359.3" font-size="37">9</text>
<text x="410.68" y="2359.3" font-size="37">n</text>
<text transform="translate(433.71 2356) scale(1.56 1)" font-size="27" font-weight="bold" stroke="#000" stroke-width="1.1">=</text>
<text x="461.42" y="2359.3" font-size="37">9</text>
<text x="590.38" y="2359.3" font-size="37">n</text>
<text transform="translate(613.41 2356) scale(1.56 1)" font-size="27" font-weight="bold" stroke="#000" stroke-width="1.1">=</text>
<text x="640.75" y="2359.3" font-size="37">7</text>
<text x="851.38" y="2359.3" font-size="37">n</text>
<text transform="translate(874.41 2356) scale(1.56 1)" font-size="27" font-weight="bold" stroke="#000" stroke-width="1.1">=</text>
<text x="901.01" y="2359.3" font-size="37" letter-spacing="5.17">10</text>
<text x="1043.68" y="2359.3" font-size="37">n</text>
<text transform="translate(1066.71 2356) scale(1.56 1)" font-size="27" font-weight="bold" stroke="#000" stroke-width="1.1">=</text>
<text x="1094.05" y="2359.3" font-size="37">7</text>
<text x="1223.38" y="2359.3" font-size="37">n</text>
<text transform="translate(1246.41 2356) scale(1.56 1)" font-size="27" font-weight="bold" stroke="#000" stroke-width="1.1">=</text>
<text x="1274.12" y="2359.3" font-size="37">8</text>
<text transform="translate(235.6 2213.69) rotate(-90)" font-size="37" letter-spacing="1.48">1<tspan font-size="44" dy="4.5">×</tspan><tspan dy="-4.5">RT</tspan></text>
<text transform="translate(320.5 2213.69) rotate(-90)" font-size="37" letter-spacing="2.36">1.5<tspan font-size="44" dy="4.5">×</tspan><tspan dy="-4.5">RT</tspan></text>
<text transform="translate(868.2 2213.69) rotate(-90)" font-size="37" letter-spacing="1.48">1<tspan font-size="44" dy="4.5">×</tspan><tspan dy="-4.5">RT</tspan></text>
<text transform="translate(947.2 2213.69) rotate(-90)" font-size="37" letter-spacing="2.36">1.5<tspan font-size="44" dy="4.5">×</tspan><tspan dy="-4.5">RT</tspan></text>
<text transform="translate(30 592.5) rotate(-90)" font-size="39" textLength="344.23" lengthAdjust="spacingAndGlyphs">Soleus MLR (%<tspan font-style="italic">M</tspan><tspan font-size="22.62" dy="12.87">max</tspan><tspan dy="-12.87">)</tspan></text>
<text transform="translate(30 1249.2) rotate(-90)" font-size="39" textLength="290.69" lengthAdjust="spacingAndGlyphs">MG MLR (%<tspan font-style="italic">M</tspan><tspan font-size="22.62" dy="12.87">max</tspan><tspan dy="-12.87">)</tspan></text>
<text transform="translate(30 1937.8) rotate(-90)" font-size="39" textLength="289.99" lengthAdjust="spacingAndGlyphs">LG<tspan dx="9.5"> MLR (%</tspan><tspan font-style="italic">M</tspan><tspan font-size="22.62" dy="12.87">max</tspan><tspan dy="-12.87">)</tspan></text>
<text x="883.31" y="177.3" font-size="81" font-weight="bold">*</text>
<text x="239.71" y="981.75" font-size="81" font-weight="bold">*</text>
<text x="1062.2" y="1659.25" font-size="81" font-weight="bold">*</text>
<text transform="translate(424.35 675) rotate(-29)" font-size="26.5" letter-spacing="0.3">(-2.5)</text>
<text transform="translate(951 152.9) rotate(33)" font-size="26.5" letter-spacing="0">(1.6)</text>
<text transform="translate(939.75 852.25) rotate(33)" font-size="26.5" letter-spacing="0">(1.6)</text>
<text transform="translate(1220.75 852.25) rotate(33)" font-size="26.5" letter-spacing="0">(1.8)</text>
<text transform="translate(1303.5 852.25) rotate(33)" font-size="26.5" letter-spacing="0">(1.5)</text>
<text transform="translate(1220.75 1294.25) rotate(33)" font-size="26.5" letter-spacing="0">(-1.6)</text>
<text transform="translate(1299 1294.25) rotate(33)" font-size="26.5" letter-spacing="0">(-1.6)</text>
<text transform="translate(325.25 1579.3) rotate(33)" font-size="26.5" letter-spacing="0">(1.8)</text>
</svg>
</body>
</html>
